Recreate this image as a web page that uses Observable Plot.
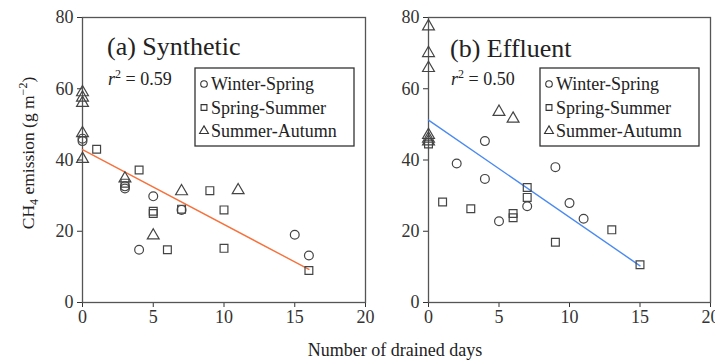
<!DOCTYPE html>
<html>
<head>
<meta charset="utf-8">
<script src="https://cdn.jsdelivr.net/npm/d3@7"></script>
<script src="https://cdn.jsdelivr.net/npm/@observablehq/plot@0.6"></script>
<style>
  body { margin: 0; background: #fff; }
  #wrap { position: relative; width: 715px; height: 363px; overflow: hidden; background: #fff; font-family: "Liberation Serif", "Times New Roman", "DejaVu Serif", serif; }
  #left, #right, #overlay { position: absolute; top: 0; }
  #left { left: 0; }
  #right { left: 390px; }
  #overlay { left: 0; pointer-events: none; }
  svg text { font-family: "Liberation Serif", "Times New Roman", "DejaVu Serif", serif; }
</style>
</head>
<body>
<div id="wrap">
  <div id="left"></div>
  <div id="right"></div>
  <svg id="overlay" width="715" height="363"></svg>
</div>
<script>
// ---- data ----
const seasons = ["Winter-Spring", "Spring-Summer", "Summer-Autumn"];
const symbols = ["circle", "square", "triangle"];
const xTicks = [0, 5, 10, 15, 20];
const yTicks = [0, 20, 40, 60, 80];

// (a) Synthetic
const synWinterX = [0, 0, 3, 3, 4, 5, 7, 15, 16];
const synWinterY = [46, 45.3, 32.6, 32, 14.8, 29.8, 26, 19, 13.2];
const synSpringX = [1, 3, 4, 5, 5, 6, 7, 9, 10, 10, 16];
const synSpringY = [43, 33.5, 37.2, 25.6, 25, 14.8, 26.2, 31.4, 26, 15.2, 9];
const synSummerX = [0, 0, 0, 0, 0, 3, 5, 7, 11];
const synSummerY = [59, 57.5, 56, 47.5, 40.3, 34.8, 18.8, 31.2, 31.5];
const synFitX = [0, 16];
const synFitY = [42.9, 9.3];
const synR2 = "0.59";

// (b) Effluent
const effWinterX = [2, 4, 4, 5, 7, 9, 10, 11];
const effWinterY = [39, 45.3, 34.7, 22.8, 27, 38, 27.9, 23.5];
const effSpringX = [0, 1, 3, 6, 6, 7, 7, 9, 13, 15];
const effSpringY = [44.5, 28.2, 26.3, 25, 23.8, 32.3, 29.5, 16.9, 20.4, 10.6];
const effSummerX = [0, 0, 0, 0, 0, 0, 5, 6];
const effSummerY = [77.5, 70, 65.8, 47, 46, 45.2, 53.5, 51.6];
const effFitX = [0, 15];
const effFitY = [51.2, 10.3];
const effR2 = "0.50";

const FONT = '"Liberation Serif", "Times New Roman", "DejaVu Serif", serif';

function rows(xs, ys, season) { return xs.map((x, i) => ({x, y: ys[i], season})); }
function fit(xs, ys) { return xs.map((x, i) => ({x, y: ys[i]})); }

const synPts = [...rows(synWinterX, synWinterY, seasons[0]), ...rows(synSpringX, synSpringY, seasons[1]), ...rows(synSummerX, synSummerY, seasons[2])];
const effPts = [...rows(effWinterX, effWinterY, seasons[0]), ...rows(effSpringX, effSpringY, seasons[1]), ...rows(effSummerX, effSummerY, seasons[2])];

function panel(pts, line, color, width, marginLeft, marginRight) {
  return Plot.plot({
    width, height: 335,
    marginTop: 17, marginBottom: 33, marginLeft, marginRight,
    style: {fontFamily: FONT, fontSize: "18px", color: "#333", background: "transparent", overflow: "visible"},
    x: {domain: [0, 20], ticks: xTicks, tickSize: 5, tickPadding: 3, label: null},
    y: {domain: [0, 80], ticks: yTicks, tickSize: 5, tickPadding: 4, label: null},
    symbol: {domain: seasons, range: symbols},
    marks: [
      Plot.frame({stroke: "#555", strokeWidth: 1.3}),
      Plot.line(line, {x: "x", y: "y", stroke: color, strokeWidth: 1.4}),
      Plot.dot(pts, {x: "x", y: "y", symbol: "season", r: 4.4, stroke: "#444", strokeWidth: 1.2, fill: "none"})
    ]
  });
}

document.getElementById("left").append(panel(synPts, fit(synFitX, synFitY), "#f7713c", 390, 82, 25));
document.getElementById("right").append(panel(effPts, fit(effFitX, effFitY), "#4a8af2", 325, 38, 5));

// ---- overlay text: titles, r², legends, axis titles ----
const svg = d3.select("#overlay")
  .attr("font-family", FONT)
  .attr("fill", "#222");

function annotate(title, r2, tx, ty, lx) {
  svg.append("text").attr("x", tx).attr("y", ty).attr("font-size", 26).text(title);
  const t = svg.append("text").attr("x", tx + 1).attr("y", 85).attr("font-size", 18);
  t.append("tspan").attr("font-style", "italic").text("r");
  t.append("tspan").attr("font-size", 12).attr("dy", -7).text("2");
  t.append("tspan").attr("dy", 7).text(" = " + r2);
  const g = svg.append("g");
  g.append("rect").attr("x", lx).attr("y", 68).attr("width", 159).attr("height", 78)
    .attr("fill", "#fff").attr("stroke", "#333").attr("stroke-width", 1.3);
  seasons.forEach((s, i) => {
    const cy = 84 + i * 23.5;
    const sym = [d3.symbolCircle, d3.symbolSquare, d3.symbolTriangle][i];
    g.append("path").attr("d", d3.symbol(sym, 34)()).attr("transform", `translate(${lx + 9},${cy})`)
      .attr("fill", "none").attr("stroke", "#333").attr("stroke-width", 1.1);
    g.append("text").attr("x", lx + 16).attr("y", cy + 6).attr("font-size", 18).text(s);
  });
}
annotate("(a) Synthetic", synR2, 107, 55, 195);
annotate("(b) Effluent", effR2, 450, 57, 540);

const yl = svg.append("text").attr("transform", "translate(34,153) rotate(-90)")
  .attr("text-anchor", "middle").attr("font-size", 17.5);
yl.append("tspan").text("CH");
yl.append("tspan").attr("font-size", 12).attr("dy", 4).text("4");
yl.append("tspan").attr("dy", -4).text(" emission (g m");
yl.append("tspan").attr("font-size", 12).attr("dy", -7).text("\u22122");
yl.append("tspan").attr("dy", 7).text(")");

svg.append("text").attr("x", 395).attr("y", 356).attr("text-anchor", "middle")
  .attr("font-size", 18).text("Number of drained days");
</script>
</body>
</html>
